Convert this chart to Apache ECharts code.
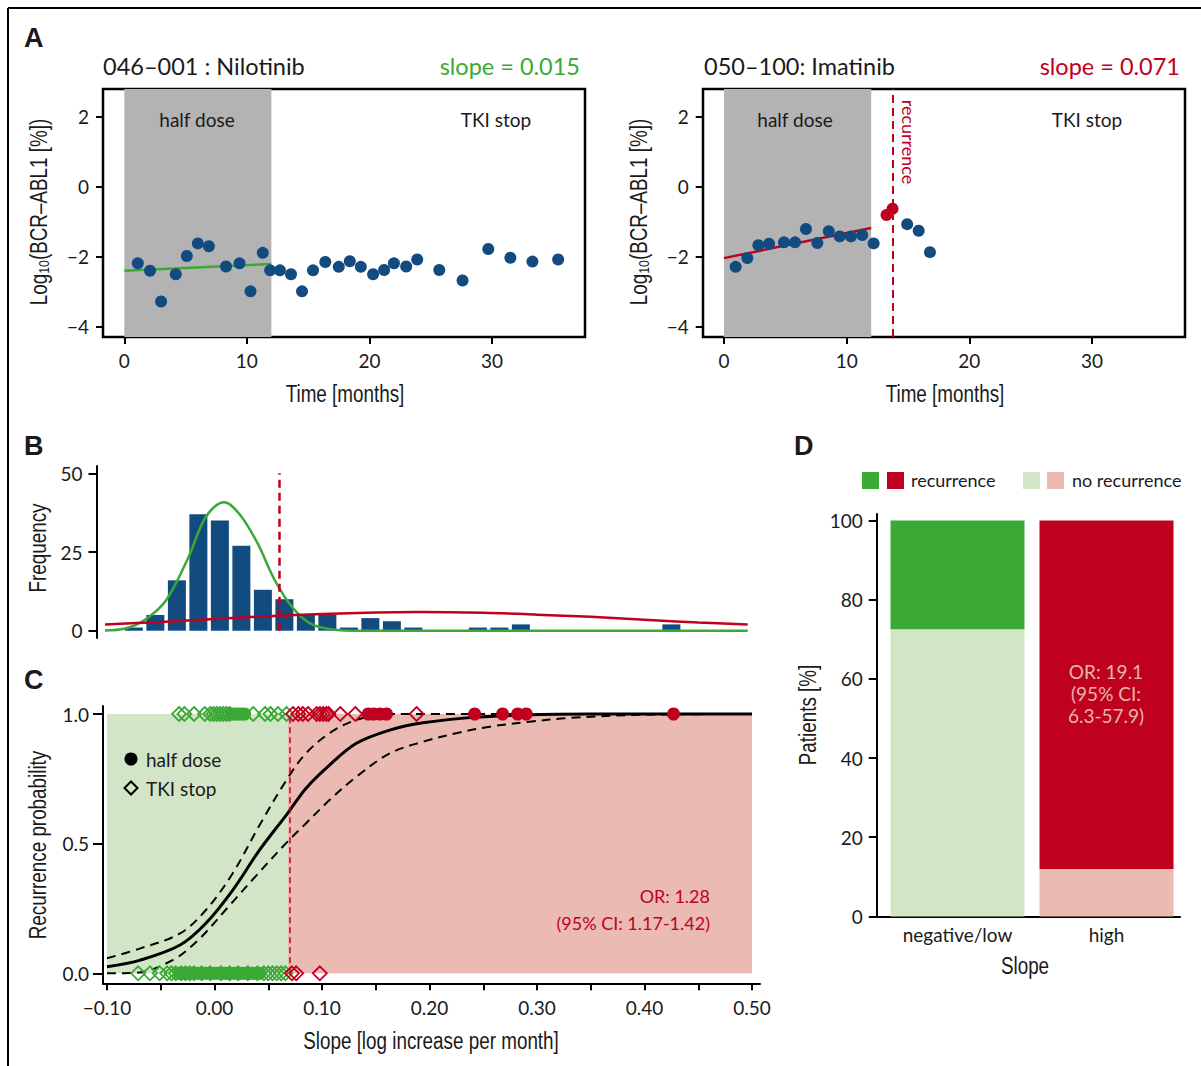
<!DOCTYPE html>
<html>
<head>
<meta charset="utf-8">
<script src="https://cdn.jsdelivr.net/npm/echarts@6/dist/echarts.min.js"></script>
<style>
  html, body { margin: 0; padding: 0; background: #fff; }
  #chart { width: 1201px; height: 1066px; }
</style>
</head>
<body>
<div id="chart"></div>
<script>
// ---- panel A: single patient time courses ----
const nilTime = [1.1, 2.1, 3.0, 4.2, 5.1, 6.0, 6.9, 8.3, 9.4, 10.3, 11.3, 11.9, 12.7, 13.6, 14.5, 15.4, 16.4, 17.5, 18.4, 19.3, 20.3, 21.2, 22.0, 23.0, 23.9, 25.7, 27.6, 29.7, 31.5, 33.3, 35.4];
const nilLog = [-2.19, -2.40, -3.28, -2.50, -1.98, -1.62, -1.70, -2.28, -2.19, -2.99, -1.89, -2.39, -2.39, -2.50, -2.99, -2.39, -2.15, -2.29, -2.13, -2.29, -2.50, -2.38, -2.19, -2.28, -2.08, -2.38, -2.68, -1.78, -2.03, -2.14, -2.08];
const nilFitTime = [0, 12];
const nilFitLog = [-2.40, -2.21];

const imaTime = [0.95, 1.90, 2.80, 3.67, 4.89, 5.79, 6.68, 7.61, 8.54, 9.43, 10.35, 11.27, 12.20, 14.93, 15.87, 16.79];
const imaLog = [-2.29, -2.04, -1.67, -1.63, -1.59, -1.59, -1.21, -1.61, -1.27, -1.42, -1.42, -1.38, -1.62, -1.07, -1.26, -1.87];
const imaRecurTime = [13.25, 13.74];
const imaRecurLog = [-0.81, -0.63];
const imaFitTime = [0, 12];
const imaFitLog = [-2.04, -1.18];

const halfDoseEnd = 12;
const recurrenceTime = 13.74;

// ---- panel B: slope histogram + fitted densities ----
const binCenters = [-0.075, -0.055, -0.035, -0.015, 0.005, 0.025, 0.045, 0.065, 0.085, 0.105, 0.125, 0.145, 0.165, 0.185, 0.245, 0.265, 0.285, 0.425];
const binCounts = [1, 5, 16, 37, 35, 27, 13, 10, 5, 5, 1, 4, 3, 1, 1, 1, 2, 2];
const greenSlope = [-0.107, -0.083, -0.065, -0.045, -0.024, -0.008, 0.009, 0.024, 0.040, 0.056, 0.072, 0.089, 0.109, 0.137, 0.496];
const greenFreq = [0, 0.7, 3.4, 9.7, 23.5, 36.2, 40.8, 36.7, 27.8, 16.1, 7.6, 2.3, 0.4, 0, 0];
const redSlope = [-0.107, -0.05, 0, 0.05, 0.10, 0.15, 0.19, 0.25, 0.30, 0.35, 0.40, 0.45, 0.496];
const redFreq = [1.9, 2.8, 3.7, 4.6, 5.3, 5.8, 5.95, 5.7, 5.1, 4.4, 3.5, 2.6, 2.0];
const histCut = 0.063;

// ---- panel C: logistic fit ----
const fitSlope = [-0.100, -0.069, -0.032, -0.008, 0.017, 0.042, 0.068, 0.085, 0.107, 0.132, 0.163, 0.194, 0.240, 0.287, 0.350, 0.500];
const fitProb = [0.025, 0.051, 0.109, 0.193, 0.321, 0.476, 0.617, 0.713, 0.803, 0.887, 0.938, 0.966, 0.987, 0.996, 1.0, 1.0];
const upperSlope = [-0.100, -0.069, -0.032, -0.008, 0.017, 0.042, 0.068, 0.085, 0.107, 0.132, 0.163, 0.500];
const upperProb = [0.058, 0.096, 0.154, 0.244, 0.386, 0.572, 0.752, 0.848, 0.926, 0.977, 1.0, 1.0];
const lowerSlope = [-0.100, -0.073, -0.039, -0.015, 0.013, 0.038, 0.068, 0.085, 0.107, 0.132, 0.163, 0.194, 0.225, 0.256, 0.293, 0.330, 0.400, 0.500];
const lowerProb = [0.0, 0.002, 0.051, 0.129, 0.257, 0.373, 0.508, 0.578, 0.668, 0.758, 0.848, 0.893, 0.926, 0.951, 0.970, 0.985, 0.997, 1.0];
const cutoffSlope = 0.068;

// patients with recurrence (drawn at 1) and without (drawn at 0)
const recurTkiStop = [-0.033, -0.028, -0.019, -0.009, -0.004, -0.001, 0.002, 0.005, 0.008, 0.011, 0.014, 0.036, 0.047, 0.052, 0.059, 0.067, 0.073, 0.078, 0.082, 0.087, 0.095, 0.098, 0.101, 0.104, 0.106, 0.117, 0.131, 0.188];
const recurHalfDose = [0.016, 0.019, 0.022, 0.025, 0.028, 0.143, 0.148, 0.154, 0.160, 0.242, 0.268, 0.282, 0.290, 0.427];
const noRecurTkiStop = [-0.071, -0.060, -0.051, -0.044, -0.040, -0.036, -0.031, -0.027, -0.023, -0.019, -0.012, -0.004, 0.006, 0.014, 0.022, 0.031, 0.040, 0.046, 0.050, 0.054, 0.058, 0.062, 0.066, 0.072, 0.076, 0.098];
const noRecurHalfDose = [-0.033, -0.029, -0.025, -0.021, -0.018, -0.015, -0.012, -0.009, -0.006, -0.003, 0.000, 0.003, 0.006, 0.009, 0.011, 0.014, 0.017, 0.020, 0.023, 0.026, 0.029, 0.032, 0.035, 0.038, 0.042];

// ---- panel D ----
const dCategories = ['negative/low', 'high'];
const dNoRecur = [72.5, 12];
const dRecur = [27.5, 88];

// ---- styling ----
const blue = '#124b7f', green = '#3aa935', red = '#c0001f', gray = '#b3b3b3';
const paleGreen = '#d3e5c7', palePink = '#ebbab2';
const ink = '#1a1a1a';
const FONT = 'Lato, "Noto Sans", sans-serif';
const NARROW = '"Liberation Sans", Arial, sans-serif';   // squeezed with scaleX below

const pairs = (xs, ys) => xs.map((x, i) => [x, ys[i]]);
const minus = s => String(s).replace('-', '\u2212');

function grid(left, top, width, height) {
  return { left, top, width, height, containLabel: false, outerBoundsMode: 'none' };
}
function hidden(g, min, max) {
  return { type: 'value', gridIndex: g, min, max, show: false };
}
function frame(g) {
  return {
    type: 'value', gridIndex: g, min: 0, max: 1,
    axisLine: { show: true, onZero: false, lineStyle: { color: '#000', width: 2 } },
    axisTick: { show: false }, axisLabel: { show: false }, splitLine: { show: false }
  };
}
function ticks(g, min, max, interval, offset, len, margin, fmt) {
  return {
    type: 'value', gridIndex: g, min, max, interval, offset,
    axisLine: { show: false, onZero: false },
    axisTick: { show: true, length: len, lineStyle: { color: '#000', width: 2 } },
    axisLabel: { margin, color: ink, fontSize: 19, fontFamily: FONT, formatter: fmt },
    splitLine: { show: false }
  };
}
function txt(text, x, y, o) {
  o = o || {};
  return {
    type: 'text', x, y, rotation: o.rot || 0, scaleX: o.sx || 1, z: 100, silent: true,
    style: {
      text, x: 0, y: 0, fill: o.color || ink, font: o.font || ('19px ' + FONT),
      textAlign: o.align || 'left', textVerticalAlign: 'middle',
      align: o.align || 'left', verticalAlign: 'middle',
      lineHeight: o.lh, rich: o.rich
    }
  };
}

const grids = [
  grid(103, 89, 482, 248),          // 0 A left data
  grid(124.3, 116.7, 367.7, 210),   // 1 A left ticks
  grid(703, 89, 482, 248),          // 2 A right data
  grid(724, 116.7, 368, 210),       // 3 A right ticks
  grid(96.5, 466, 10, 172),         // 4 B frame
  grid(107, 473.3, 645, 157.4),     // 5 B data
  grid(103, 706, 657, 277.3),       // 6 C frame
  grid(107, 714, 645, 259.3),       // 7 C data
  grid(876.7, 514, 303.3, 402.4),   // 8 D frame
  grid(883, 520.4, 298, 396)        // 9 D data
];
grids[0].show = true; grids[0].borderColor = '#000'; grids[0].borderWidth = 2.5;
grids[2].show = true; grids[2].borderColor = '#000'; grids[2].borderWidth = 2.5;

const fmtInt = v => minus(v);
const xAxes = [
  hidden(0, -1.738, 37.59),
  ticks(1, 0, 30, 10, 10.3, 7, 14, fmtInt),
  hidden(2, -1.712, 37.58),
  ticks(3, 0, 30, 10, 10.3, 7, 14, fmtInt),
  { type: 'value', gridIndex: 4, show: false },
  hidden(5, -0.1, 0.5),
  frame(6),
  ticks(7, -0.1, 0.5, 0.05, 10, 7, 15, v => (Math.round(v * 100) % 10 === 0 ? minus(v.toFixed(2)) : '')),
  frame(8),
  {
    type: 'category', gridIndex: 9, data: dCategories,
    axisLine: { show: false }, axisTick: { show: false },
    axisLabel: { margin: 9, color: ink, fontSize: 19, fontFamily: FONT }
  }
];
const yAxes = [
  hidden(0, -4.294, 2.791),
  ticks(1, -4, 2, 2, 21.3, 7, 14, fmtInt),
  hidden(2, -4.294, 2.791),
  ticks(3, -4, 2, 2, 21.3, 7, 14, fmtInt),
  frame(4),
  ticks(5, 0, 50, 25, 10.5, 8, 14, fmtInt),
  frame(6),
  ticks(7, 0, 1, 0.5, 4, 10, 14, v => v.toFixed(1)),
  frame(8),
  ticks(9, 0, 100, 20, 6.3, 8, 14, fmtInt)
];

const curve = (xi, yi, data, color, width, type, z) => ({
  type: 'line', xAxisIndex: xi, yAxisIndex: yi, data, z, clip: false,
  symbol: 'none', smooth: 0.35, lineStyle: { color, width, type: type || 'solid' }
});

const S = [];
// A left
S.push({ type: 'line', xAxisIndex: 0, yAxisIndex: 0, data: [], z: 1, silent: true,
  markArea: { silent: true, itemStyle: { color: gray }, data: [[{ xAxis: 0 }, { xAxis: halfDoseEnd }]] } });
S.push({ type: 'line', xAxisIndex: 0, yAxisIndex: 0, data: pairs(nilFitTime, nilFitLog), z: 3,
  symbol: 'none', lineStyle: { color: green, width: 2.5 } });
S.push({ type: 'scatter', xAxisIndex: 0, yAxisIndex: 0, data: pairs(nilTime, nilLog), z: 5, clip: false,
  symbolSize: 12, itemStyle: { color: blue, opacity: 1 } });
// A right
S.push({ type: 'line', xAxisIndex: 2, yAxisIndex: 2, data: [], z: 1, silent: true,
  markArea: { silent: true, itemStyle: { color: gray }, data: [[{ xAxis: 0 }, { xAxis: halfDoseEnd }]] },
  markLine: { silent: true, symbol: ['none', 'none'], label: { show: false },
    lineStyle: { color: red, width: 2, type: [8, 5] }, data: [{ xAxis: recurrenceTime }] } });
S.push({ type: 'line', xAxisIndex: 2, yAxisIndex: 2, data: pairs(imaFitTime, imaFitLog), z: 3,
  symbol: 'none', lineStyle: { color: red, width: 2.5 } });
S.push({ type: 'scatter', xAxisIndex: 2, yAxisIndex: 2, data: pairs(imaTime, imaLog), z: 5, clip: false,
  symbolSize: 12, itemStyle: { color: blue, opacity: 1 } });
S.push({ type: 'scatter', xAxisIndex: 2, yAxisIndex: 2, data: pairs(imaRecurTime, imaRecurLog), z: 6, clip: false,
  symbolSize: 12, itemStyle: { color: red, opacity: 1 } });
// B
S.push({ type: 'bar', xAxisIndex: 5, yAxisIndex: 5, data: pairs(binCenters, binCounts), barWidth: 18, z: 2,
  itemStyle: { color: blue } });
S.push({ type: 'line', xAxisIndex: 5, yAxisIndex: 5, data: [], z: 3,
  markLine: { silent: true, symbol: ['none', 'none'], label: { show: false },
    lineStyle: { color: red, width: 2.5, type: [8, 5] }, data: [{ xAxis: histCut }] } });
S.push(curve(5, 5, pairs(greenSlope, greenFreq), green, 2.5, null, 4));
S.push(curve(5, 5, pairs(redSlope, redFreq), red, 2.5, null, 4));
// C
S.push({ type: 'line', xAxisIndex: 7, yAxisIndex: 7, data: [], z: 1, silent: true,
  markArea: { silent: true, data: [
    [{ xAxis: -0.1, itemStyle: { color: paleGreen } }, { xAxis: cutoffSlope }],
    [{ xAxis: cutoffSlope, itemStyle: { color: palePink } }, { xAxis: 0.5 }]
  ] },
  markLine: { silent: true, symbol: ['none', 'none'], label: { show: false },
    lineStyle: { color: red, width: 1.5, type: [6, 4] }, data: [{ xAxis: cutoffSlope }] } });
S.push(curve(7, 7, pairs(lowerSlope, lowerProb), '#000', 2, [9, 6], 3));
S.push(curve(7, 7, pairs(upperSlope, upperProb), '#000', 2, [9, 6], 3));
S.push(curve(7, 7, pairs(fitSlope, fitProb), '#000', 3, null, 4));

function rowSeries(slopes, prob, symbol) {
  const groups = [[slopes.filter(s => s < cutoffSlope), green], [slopes.filter(s => s >= cutoffSlope), red]];
  groups.forEach(([xs, c]) => {
    const filled = symbol === 'circle';
    S.push({
      type: 'scatter', xAxisIndex: 7, yAxisIndex: 7, clip: false, z: filled ? 8 : 7,
      data: xs.map(x => [x, prob]), symbol, symbolSize: filled ? 13 : 14,
      itemStyle: filled ? { color: c, opacity: 1 }
                        : { color: 'rgba(0,0,0,0)', borderColor: c, borderWidth: 1.8, opacity: 1 }
    });
  });
}
rowSeries(recurTkiStop, 1, 'diamond');
rowSeries(noRecurTkiStop, 0, 'diamond');
rowSeries(recurHalfDose, 1, 'circle');
rowSeries(noRecurHalfDose, 0, 'circle');

// D
const noRecurColors = [paleGreen, palePink];
const recurColors = [green, red];
S.push({ type: 'bar', name: 'no recurrence', xAxisIndex: 9, yAxisIndex: 9, stack: 'd', barWidth: 134,
  data: dNoRecur.map((v, i) => ({ value: v, itemStyle: { color: noRecurColors[i] } })) });
S.push({ type: 'bar', name: 'recurrence', xAxisIndex: 9, yAxisIndex: 9, stack: 'd', barWidth: 134,
  data: dRecur.map((v, i) => ({ value: v, itemStyle: { color: recurColors[i] } })) });

const LETTER = 'bold 27px "Liberation Sans", Arial, sans-serif';
const TITLE = '23.5px ' + FONT;
const AX = '23px ' + NARROW;
const SX = 0.82;
const logRich = { sub: { fontSize: 15, fontFamily: NARROW, verticalAlign: 'bottom', lineHeight: 14 } };

const graphics = [
  { type: 'line', shape: { x1: 8, y1: 8, x2: 1201, y2: 8 }, style: { stroke: '#000', lineWidth: 2 }, silent: true },
  { type: 'line', shape: { x1: 8, y1: 8, x2: 8, y2: 1066 }, style: { stroke: '#000', lineWidth: 2 }, silent: true },
  txt('A', 24, 38, { font: LETTER }),
  txt('B', 24, 446, { font: LETTER }),
  txt('C', 24, 680, { font: LETTER }),
  txt('D', 794, 446, { font: LETTER }),
  txt('046\u2013001 : Nilotinib', 103, 66, { font: TITLE }),
  txt('slope = 0.015', 580, 66, { font: TITLE, align: 'right', color: green }),
  txt('050\u2013100: Imatinib', 704, 66, { font: TITLE }),
  txt('slope = 0.071', 1180, 66, { font: TITLE, align: 'right', color: red }),
  txt('half dose', 197, 119, { align: 'center' }),
  txt('TKI stop', 496, 119, { align: 'center' }),
  txt('half dose', 795, 119, { align: 'center' }),
  txt('TKI stop', 1087, 119, { align: 'center' }),
  txt('recurrence', 909, 142, { align: 'center', rot: -Math.PI / 2, color: red, font: '18px ' + FONT }),
  txt('Log{sub|10}(BCR\u2013ABL1 [%])', 39, 212, { align: 'center', rot: Math.PI / 2, font: AX, rich: logRich, lh: 26, sx: SX }),
  txt('Log{sub|10}(BCR\u2013ABL1 [%])', 639, 212, { align: 'center', rot: Math.PI / 2, font: AX, rich: logRich, lh: 26, sx: SX }),
  txt('Time [months]', 345, 394, { align: 'center', font: AX, sx: SX }),
  txt('Time [months]', 945, 394, { align: 'center', font: AX, sx: SX }),
  txt('Frequency', 38, 548, { align: 'center', rot: Math.PI / 2, font: AX, sx: SX }),
  txt('Recurrence probability', 38, 845, { align: 'center', rot: Math.PI / 2, font: AX, sx: SX }),
  txt('Slope [log increase per month]', 431, 1041, { align: 'center', font: AX, sx: SX }),
  txt('OR: 1.28', 710, 896, { align: 'right', color: red, font: '18px ' + FONT }),
  txt('(95% CI: 1.17-1.42)', 710, 923, { align: 'right', color: red, font: '18px ' + FONT }),
  { type: 'circle', shape: { cx: 131, cy: 759, r: 6.5 }, style: { fill: '#000' }, z: 100, silent: true },
  { type: 'polygon', shape: { points: [[131, 781.5], [137.5, 788], [131, 794.5], [124.5, 788]] },
    style: { fill: 'none', stroke: '#000', lineWidth: 2 }, z: 100, silent: true },
  txt('half dose', 146, 759),
  txt('TKI stop', 146, 788),
  { type: 'rect', shape: { x: 862, y: 472, width: 17, height: 17 }, style: { fill: green }, z: 100, silent: true },
  { type: 'rect', shape: { x: 887, y: 472, width: 17, height: 17 }, style: { fill: red }, z: 100, silent: true },
  txt('recurrence', 911, 480, { font: '18px ' + FONT }),
  { type: 'rect', shape: { x: 1023, y: 472, width: 17, height: 17 }, style: { fill: paleGreen }, z: 100, silent: true },
  { type: 'rect', shape: { x: 1047, y: 472, width: 17, height: 17 }, style: { fill: palePink }, z: 100, silent: true },
  txt('no recurrence', 1072, 480, { font: '18px ' + FONT }),
  txt('OR: 19.1\n(95% CI:\n6.3-57.9)', 1106, 693, { align: 'center', color: '#e9b4aa', font: '19px ' + FONT, lh: 22 }),
  txt('Patients [%]', 808, 715, { align: 'center', rot: Math.PI / 2, font: AX, sx: SX }),
  txt('Slope', 1025, 966, { align: 'center', font: AX, sx: SX })
];

const chart = echarts.init(document.getElementById('chart'), null, { renderer: 'svg' });
chart.setOption({
  animation: false,
  backgroundColor: '#fff',
  grid: grids,
  xAxis: xAxes,
  yAxis: yAxes,
  series: S,
  graphic: graphics
});
</script>
</body>
</html>
